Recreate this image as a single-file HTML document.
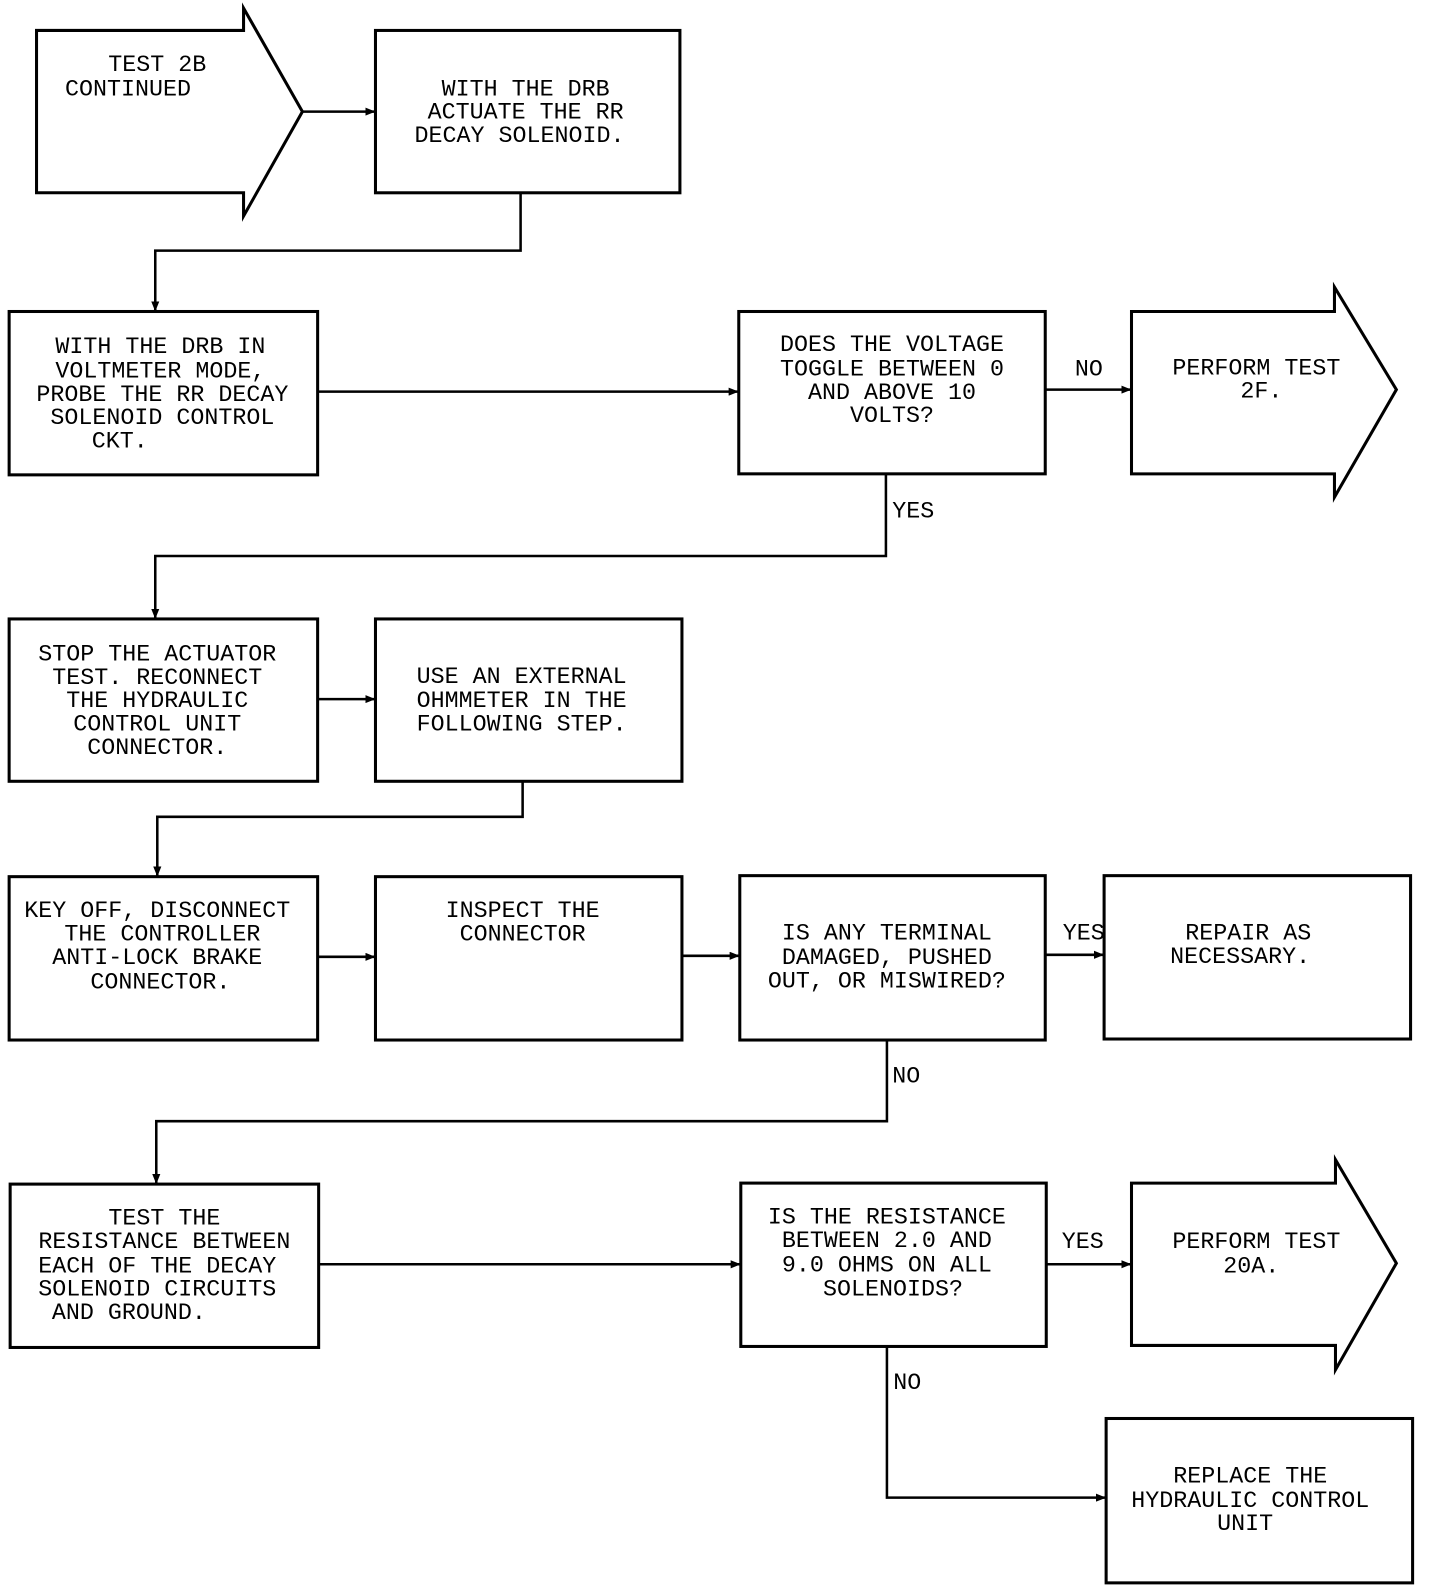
<!DOCTYPE html>
<html><head><meta charset="utf-8"><style>
html,body{margin:0;padding:0;background:#fff;width:1440px;height:1592px;overflow:hidden}
svg{display:block}
text{font-family:"Liberation Mono",monospace;font-size:23px;fill:#000;text-anchor:middle}
.l{text-anchor:start}
</style></head><body>
<svg width="1440" height="1592" viewBox="0 0 1419 1569" preserveAspectRatio="none">
<defs><marker id="a" markerWidth="10" markerHeight="8" refX="9" refY="4" orient="auto" markerUnits="userSpaceOnUse"><path d="M0,0 L10,4 L0,8 z" fill="#000"/></marker></defs>
<g fill="none" stroke="#000" stroke-width="3">
<path d="M36,30 H240 V8 L298,110 L240,213 V190 H36 Z"/>
<rect x="370" y="30" width="300" height="160"/>
<rect x="9" y="307" width="304" height="161"/>
<rect x="728" y="307" width="302" height="160"/>
<path d="M1115,307 H1315 V283 L1376,384 L1315,490 V467 H1115 Z"/>
<rect x="9" y="610" width="304" height="160"/>
<rect x="370" y="610" width="302" height="160"/>
<rect x="9" y="864" width="304" height="161"/>
<rect x="370" y="864" width="302" height="161"/>
<rect x="729" y="863" width="301" height="162"/>
<rect x="1088" y="863" width="302" height="161"/>
<rect x="10" y="1167" width="304" height="161"/>
<rect x="730" y="1166" width="301" height="161"/>
<path d="M1115,1166 H1316 V1143 L1376,1245 L1316,1350 V1326 H1115 Z"/>
<rect x="1090" y="1398" width="302" height="162"/>
</g>
<g fill="none" stroke="#000" stroke-width="2.5" marker-end="url(#a)">
<path d="M298,110 H369"/>
<path d="M513,190 V247 H153 V306"/>
<path d="M313,386 H727"/>
<path d="M1030,384 H1114"/>
<path d="M873,467 V548 H153 V609"/>
<path d="M313,689 H369"/>
<path d="M515,770 V805 H155 V863"/>
<path d="M313,943 H369"/>
<path d="M672,942 H728"/>
<path d="M1030,941 H1087"/>
<path d="M874,1025 V1105 H154 V1166"/>
<path d="M314,1246 H729"/>
<path d="M1031,1246 H1114"/>
<path d="M874,1327 V1476 H1089"/>
</g>
<text x="155" y="70">TEST 2B</text><text class="l" x="64" y="94">CONTINUED</text>
<text x="518" y="94">WITH THE DRB</text><text x="518" y="117">ACTUATE THE RR</text><text x="512" y="140">DECAY SOLENOID.</text>
<text x="158" y="348">WITH THE DRB IN</text><text x="158" y="372">VOLTMETER MODE,</text><text x="160" y="395">PROBE THE RR DECAY</text><text x="160" y="418">SOLENOID CONTROL</text><text x="118" y="441">CKT.</text>
<text x="879" y="346">DOES THE VOLTAGE</text><text x="879" y="370">TOGGLE BETWEEN 0</text><text x="879" y="393">AND ABOVE 10</text><text x="879" y="416">VOLTS?</text>
<text x="1073" y="370">NO</text>
<text x="1238" y="369">PERFORM TEST</text><text x="1243" y="392">2F.</text>
<text x="900" y="510">YES</text>
<text x="155" y="651">STOP THE ACTUATOR</text><text x="155" y="674">TEST. RECONNECT</text><text x="155" y="697">THE HYDRAULIC</text><text x="155" y="720">CONTROL UNIT</text><text x="155" y="743">CONNECTOR.</text>
<text x="514" y="673">USE AN EXTERNAL</text><text x="514" y="697">OHMMETER IN THE</text><text x="514" y="720">FOLLOWING STEP.</text>
<text x="155" y="904">KEY OFF, DISCONNECT</text><text x="160" y="927">THE CONTROLLER</text><text x="155" y="950">ANTI-LOCK BRAKE</text><text x="158" y="974">CONNECTOR.</text>
<text x="515" y="904">INSPECT THE</text><text x="515" y="927">CONNECTOR</text>
<text x="874" y="926">IS ANY TERMINAL</text><text x="874" y="950">DAMAGED, PUSHED</text><text x="874" y="973">OUT, OR MISWIRED?</text>
<text x="1068" y="926">YES</text>
<text x="1230" y="926">REPAIR AS</text><text x="1222" y="949">NECESSARY.</text>
<text x="893" y="1067">NO</text>
<text x="162" y="1207">TEST THE</text><text x="162" y="1230">RESISTANCE BETWEEN</text><text x="155" y="1254">EACH OF THE DECAY</text><text x="155" y="1277">SOLENOID CIRCUITS</text><text x="127" y="1300">AND GROUND.</text>
<text x="874" y="1206">IS THE RESISTANCE</text><text x="874" y="1229">BETWEEN 2.0 AND</text><text x="874" y="1253">9.0 OHMS ON ALL</text><text x="880" y="1277">SOLENOIDS?</text>
<text x="1067" y="1230">YES</text>
<text x="1238" y="1230">PERFORM TEST</text><text x="1233" y="1254">20A.</text>
<text x="894" y="1369">NO</text>
<text x="1232" y="1461">REPLACE THE</text><text x="1232" y="1485">HYDRAULIC CONTROL</text><text x="1227" y="1508">UNIT</text>
</svg>
</body></html>
